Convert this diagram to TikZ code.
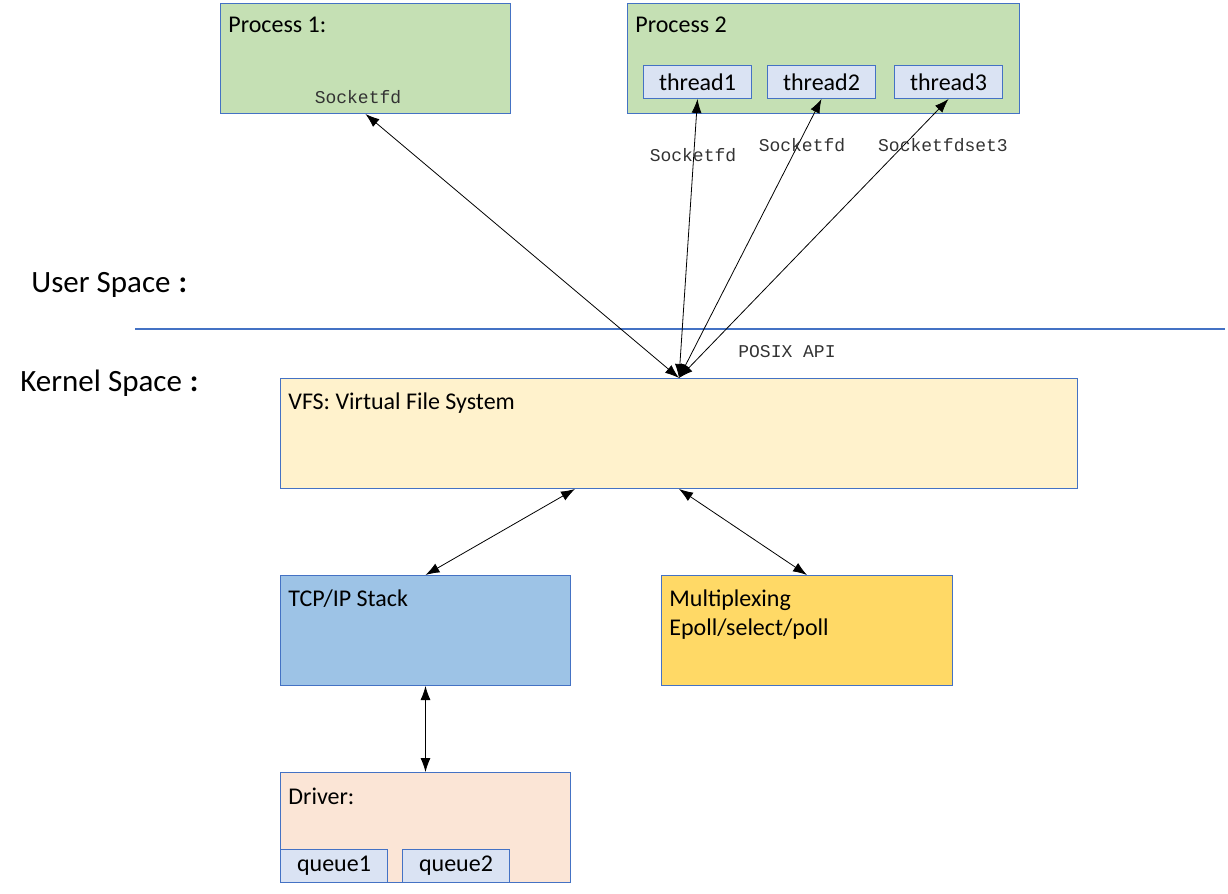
\documentclass[tikz,border=0pt]{standalone}
\usepackage{fontspec}
\setmainfont{Carlito}
\newfontfamily\simfont{Liberation Mono}
\usetikzlibrary{arrows.meta}
\definecolor{boxline}{HTML}{4472C4}
\definecolor{procgreen}{HTML}{C5E0B4}
\definecolor{threadblue}{HTML}{DAE3F3}
\definecolor{vfsyellow}{HTML}{FFF2CC}
\definecolor{tcpblue}{HTML}{9DC3E6}
\definecolor{muxgold}{HTML}{FFD966}
\definecolor{driverpeach}{HTML}{FBE5D6}
\begin{document}
\begin{tikzpicture}
		[x=0.5pt,y=-0.5pt,
		box/.style={draw=boxline,line width=0.5pt,anchor=north west,inner sep=0pt,minimum height=55pt},
		small/.style={box,fill=threadblue,minimum width=54pt,minimum height=16.5pt,font=\fontsize{12}{14}\selectfont},
		title/.style={anchor=north west,inner sep=0pt,xshift=4pt,yshift=-7pt,align=left,font=\fontsize{12}{14.5}\selectfont},
		space/.style={anchor=west,inner sep=0pt,font=\fontsize{15.5}{18}\selectfont},
		api/.style={inner sep=0pt,text=black!80,font=\simfont\fontsize{9}{10}\selectfont},
		link/.style={<->,>={Latex[length=7pt,width=5pt]},line width=0.4pt}]
		\useasboundingbox (0,0) rectangle (1228,894);
		% user space
		\node[box,fill=procgreen,minimum width=145pt] (proc1) at (220,3) {};
		\node[title] (proc1-t) at (proc1.north west) {Process 1:};
		\node[api] (sock1) at (358,97) {Socketfd};
		\node[box,fill=procgreen,minimum width=196pt] (proc2) at (627,3) {};
		\node[title] (proc2-t) at (proc2.north west) {Process 2};
		\foreach \i/\x in {1/643,2/767,3/894}
			\node[small] (thread\i) at (\x,65) {thread\i};
		\node[space] (user) at (31,285) {User Space\hspace{4pt}\textbf{:}};
		\node[space] (kernel) at (20,383) {Kernel Space\hspace{4pt}\textbf{:}};
		\coordinate (sep-l) at (135,329);
		\coordinate (sep-r) at (1225,329);
		\draw[boxline,line width=0.7pt] (sep-l) -- (sep-r);
		% kernel space
		\node[box,fill=vfsyellow,minimum width=398.5pt] (vfs) at (280,378) {};
		\node[title] (vfs-t) at (vfs.north west) {VFS: Virtual File System};
		\node[box,fill=tcpblue,minimum width=145pt] (tcp) at (280,575) {};
		\node[title] (tcp-t) at (tcp.north west) {TCP/IP Stack};
		\node[box,fill=muxgold,minimum width=145.5pt] (mux) at (661,575) {};
		\node[title] (mux-t) at (mux.north west) {Multiplexing\\Epoll/select/poll};
		\node[box,fill=driverpeach,minimum width=145pt] (driver) at (280,772) {};
		\node[title,yshift=-1pt] (driver-t) at (driver.north west) {Driver:};
		\node[small,minimum width=53.5pt] (queue1) at (280,849) {queue1};
		\node[small,minimum width=53.5pt] (queue2) at (402,849) {queue2};
		\coordinate (vfs-l) at (575,489);
		% connectors
		\draw[link] (proc1.south) -- (vfs.north);
		\draw[link] (thread1.south) -- (vfs.north);
		\draw[link] (thread2.south) -- (vfs.north);
		\draw[link] (thread3.south) -- (vfs.north);
		\draw[link] (vfs-l) -- (tcp.north);
		\draw[link] (vfs.south) -- (mux.north);
		\draw[link] (tcp.south) -- (driver.north);
		\node[api] (sock2) at (693,155) {Socketfd};
		\node[api] (sock3) at (802,145) {Socketfd};
		\node[api] (sock4) at (943,145) {Socketfdset3};
		\node[api] (posix) at (787,352) {POSIX API};
	\end{tikzpicture}
\end{document}
